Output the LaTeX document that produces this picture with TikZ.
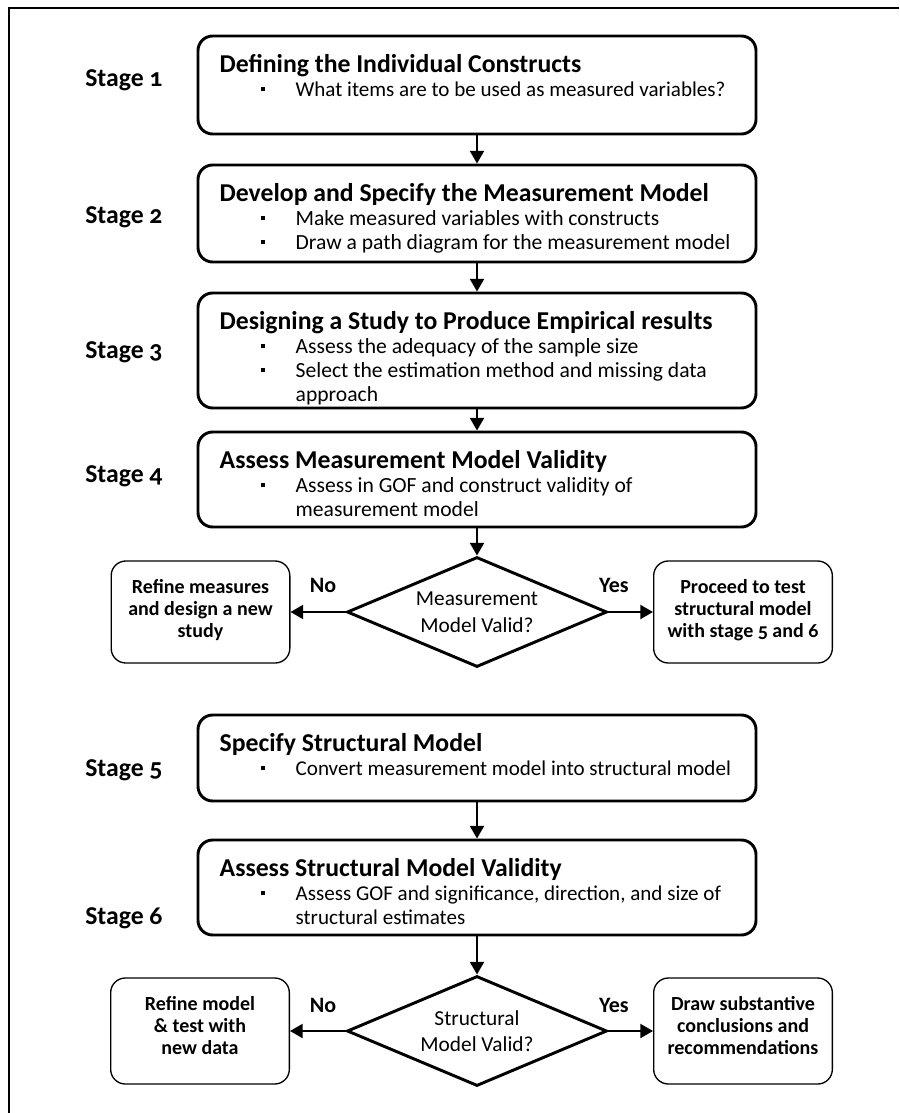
\documentclass[tikz,border=0pt]{standalone}
\usepackage{fontspec}
\setmainfont{Carlito}[Numbers=OldStyle]
\usetikzlibrary{arrows.meta, shapes.geometric}
\newcommand{\toptext}[3]{\begin{minipage}[c][#1][t]{#2}\vspace*{13.5pt}#3\end{minipage}}
\newcommand{\ttl}[1]{{\bfseries\fontsize{19.3}{18}\selectfont #1\par}}
\newcommand{\bul}[1]{\par\hspace*{31pt}\makebox[26pt][l]{\rule[0.22em]{3.2pt}{3.2pt}}%
  \begin{tabular}[t]{@{}l@{}}#1\end{tabular}}

\begin{document}
\begin{tikzpicture}[x=0.75pt, y=-0.75pt,
  stagebox/.style={rectangle, rounded corners=11pt, draw, line width=2.2pt,
              minimum width=418.5pt, inner xsep=16pt, inner ysep=0pt,
              font=\fontsize{15.8}{18}\selectfont},
  widebox/.style={stagebox, font=\fontsize{16.2}{18}\selectfont},
  sidebox/.style={rectangle, rounded corners=11pt, draw, line width=1pt,
              minimum width=134pt, inner xsep=4pt, inner ysep=0pt,
              font=\bfseries\fontsize{15}{16.5}\selectfont},
  decision/.style={diamond, draw, line width=2.2pt, aspect=2.36, minimum width=195pt,
              minimum height=82.5pt, inner sep=0pt, align=center,
              font=\fontsize{16}{20}\selectfont},
  stagelab/.style={anchor=west, inner xsep=0pt, font=\bfseries\fontsize{19.3}{20}\selectfont},
  answer/.style={font=\bfseries\fontsize{16.5}{18}\selectfont},
  flow/.style={line width=1.5pt, -{Triangle[width=10.5pt, length=9.5pt]}},
  frame/.style={line width=2.2pt},
]
\useasboundingbox (0,0) rectangle (899,1113);
% ---- frame (top and left edge only)
\draw[frame] (899,8) -- (9,8) -- (9,1113);
% ---- stages 1-4: measurement model
\node[stagebox] (define) at (477,85) {\toptext{73.5pt}{386pt}{\ttl{Defining the Individual Constructs}
  \bul{What items are to be used as measured variables?}}};
\node[widebox] (develop) at (477,213.5) {\toptext{72.75pt}{386pt}{\ttl{Develop and Specify the Measurement Model}
  \bul{Make measured variables with constructs}
  \bul{Draw a path diagram for the measurement model}}};
\node[widebox] (design) at (477,350.5) {\toptext{86.25pt}{386pt}{\ttl{Designing a Study to Produce Empirical results}
  \bul{Assess the adequacy of the sample size}
  \bul{Select the estimation method and missing data\\approach}}};
\node[widebox] (assessmm) at (477,479.5) {\toptext{71.25pt}{386pt}{\ttl{Assess Measurement Model Validity}
  \bul{Assess in GOF and construct validity of\\measurement model}}};
\node[stagelab] (lab1) at (85,80) {Stage 1};
\node[stagelab] (lab2) at (85,217) {Stage 2};
\node[stagelab] (lab3) at (85,352) {Stage 3};
\node[stagelab] (lab4) at (85,476) {Stage 4};
\draw[flow] (define) -- (develop);
\draw[flow] (develop) -- (design);
\draw[flow] (design) -- (assessmm);
% ---- first decision
\node[decision] (validmm) at (477,612) {Measurement\\Model Valid?};
\node[sidebox] (refinemm) at (200.5,612) {\toptext{76.5pt}{126pt}{\centering Refine measures\\and design a new\\study}};
\node[sidebox] (proceed) at (743,612) {\toptext{76.5pt}{126pt}{\centering Proceed to test\\structural model\\with stage 5 and 6}};
\node[answer] (no1) at (323,585) {No};
\node[answer] (yes1) at (614,585) {Yes};
\draw[flow] (assessmm) -- (validmm);
\draw[flow] (validmm) -- (refinemm);
\draw[flow] (validmm) -- (proceed);
% ---- stages 5-6: structural model
\node[stagebox] (specify) at (477,758) {\toptext{64.5pt}{386pt}{\ttl{Specify Structural Model}
  \bul{Convert measurement model into structural model}}};
\node[stagebox] (assesssm) at (477,887.5) {\toptext{71.25pt}{386pt}{\ttl{Assess Structural Model Validity}
  \bul{Assess GOF and significance, direction, and size of\\structural estimates}}};
\node[stagelab] (lab5) at (85,770) {Stage 5};
\node[stagelab] (lab6) at (85,918) {Stage 6};
\draw[flow] (specify) -- (assesssm);
% ---- second decision
\node[decision] (validsm) at (477,1031) {Structural\\Model Valid?};
\node[sidebox] (refinesm) at (200,1031) {\toptext{79.5pt}{126pt}{\centering Refine model\\\& test with\\new data}};
\node[sidebox] (conclude) at (743,1031) {\toptext{79.5pt}{126pt}{\centering Draw substantive\\conclusions and\\recommendations}};
\node[answer] (no2) at (323,1005) {No};
\node[answer] (yes2) at (614,1005) {Yes};
\draw[flow] (assesssm) -- (validsm);
\draw[flow] (validsm) -- (refinesm);
\draw[flow] (validsm) -- (conclude);
\end{tikzpicture}
\end{document}
